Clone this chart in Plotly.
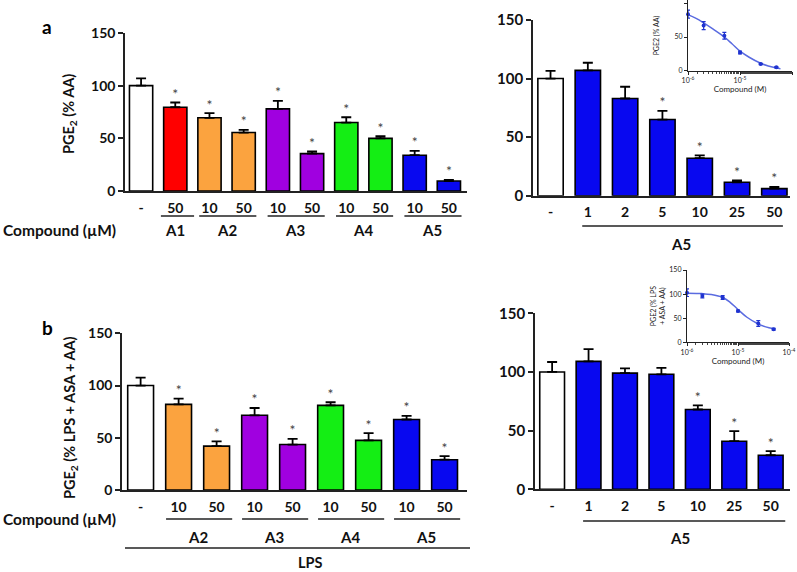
import plotly.graph_objects as go

W, H = 797, 572

# ---------------- data ----------------
WHITE, RED, ORANGE, PURPLE, GREEN, BLUE = "#FFFFFF", "#FF0000", "#FBA33F", "#A000E0", "#14EE14", "#0808F0"

a_left_labels = ["-", "50", "10", "50", "10", "50", "10", "50", "10", "50"]
a_left_groups = ["", "A1", "A2", "A2", "A3", "A3", "A4", "A4", "A5", "A5"]
a_left_values = [100, 79.5, 69.5, 55.5, 78, 35.5, 65, 50, 34, 9.5]
a_left_errors = [7, 4.5, 4.5, 2.5, 7.5, 2, 5, 2, 4, 1]
a_left_colors = [WHITE, RED, ORANGE, ORANGE, PURPLE, PURPLE, GREEN, GREEN, BLUE, BLUE]
a_left_sig = [False, True, True, True, True, True, True, True, True, True]

a_right_labels = ["-", "1", "2", "5", "10", "25", "50"]
a_right_groups = ["", "A5", "A5", "A5", "A5", "A5", "A5"]
a_right_values = [100, 107, 83, 65, 32, 11.5, 6]
a_right_errors = [6.5, 6.5, 10, 7.5, 2.5, 1.5, 1.5]
a_right_colors = [WHITE, BLUE, BLUE, BLUE, BLUE, BLUE, BLUE]
a_right_sig = [False, False, False, True, True, True, True]

b_left_labels = ["-", "10", "50", "10", "50", "10", "50", "10", "50"]
b_left_groups = ["", "A2", "A2", "A3", "A3", "A4", "A4", "A5", "A5"]
b_left_values = [100, 82, 42, 71.5, 43.5, 81, 47.5, 67.5, 29]
b_left_errors = [7.5, 5.5, 4.5, 7, 5.5, 3, 7, 3.5, 3.5]
b_left_colors = [WHITE, ORANGE, ORANGE, PURPLE, PURPLE, GREEN, GREEN, BLUE, BLUE]
b_left_sig = [False, True, True, True, True, True, True, True, True]

b_right_labels = ["-", "1", "2", "5", "10", "25", "50"]
b_right_groups = ["", "A5", "A5", "A5", "A5", "A5", "A5"]
b_right_values = [100, 109, 99, 98, 68, 41, 29]
b_right_errors = [8.5, 10.5, 4, 5.5, 3.5, 8.5, 3.5]
b_right_colors = [WHITE, BLUE, BLUE, BLUE, BLUE, BLUE, BLUE]
b_right_sig = [False, False, False, False, True, True, True]

y_ticks = [0, 50, 100, 150]

# insets (concentration in M)
inset_conc = [1e-6, 2e-6, 5e-6, 1e-5, 2.5e-5, 5e-5]
inset_a_values = [84, 67, 52, 27, 10, 5]
inset_a_errors = [6, 6, 5, 2, 1, 1]
inset_a_fit_x = [1e-6, 1.4e-6, 2e-6, 3e-6, 5e-6, 7e-6, 1e-5, 1.5e-5, 2.5e-5, 3.5e-5, 5e-5, 6e-5]
inset_a_fit_y = [83, 78, 71, 62, 50, 40, 29, 20, 11, 7, 4, 3]

inset_b_values = [103, 96, 93, 65, 39, 27]
inset_b_errors = [8, 4, 4, 2, 6, 2]
inset_b_fit_x = [1e-6, 2e-6, 3e-6, 5e-6, 7e-6, 1e-5, 1.5e-5, 2.5e-5, 3.5e-5, 5e-5]
inset_b_fit_y = [102, 101, 99, 93, 83, 68, 52, 38, 32, 28]

# ---------------- helpers ----------------
def px(x):
    return x / W

def py(y):
    return 1 - y / H

FONT = "Lato"
fig = go.Figure()
annotations = []
shapes = []

def label(x, y, text, size, color="#111", bold=True, angle=0, xanchor="center", xref="paper"):
    annotations.append(dict(xref=xref, yref="paper", x=x, y=y, text=text, showarrow=False,
                            xanchor=xanchor, yanchor="middle", textangle=angle,
                            font=dict(size=size, family=FONT, color=color,
                                      weight="bold" if bold else "normal")))

def bar_panel(idx, labels, groups, values, errors, colors, sig, xdom, ydom, xrange, line_y, grp_y, pads, tick_size=14):
    xa = "x" if idx == 1 else f"x{idx}"
    ya = "y" if idx == 1 else f"y{idx}"
    n = len(values)
    xs = list(range(n))
    fig.add_trace(go.Bar(
        x=xs, y=values, marker=dict(color=colors, line=dict(color="black", width=1.6)),
        width=0.68, xaxis=xa, yaxis=ya, showlegend=False,
        error_y=dict(type="data", array=errors, arrayminus=[0] * n, symmetric=False,
                     color="black", thickness=1.8, width=5),
    ))
    tops = [v + e for v, e in zip(values, errors)]
    fig.add_trace(go.Scatter(
        x=xs, y=tops, mode="text", text=["*" if s else "" for s in sig],
        textposition="top center", textfont=dict(size=14, color="#444", family=FONT),
        xaxis=xa, yaxis=ya, showlegend=False, cliponaxis=False,
    ))
    key = "" if idx == 1 else str(idx)
    fig.layout["xaxis" + key] = dict(
        domain=[px(xdom[0]), px(xdom[1])], range=xrange, anchor=ya, automargin=False,
        showline=True, linecolor="#222", linewidth=1.6, showgrid=False, zeroline=False,
        tickvals=xs, ticktext=labels, ticks="outside", ticklen=3, tickcolor="rgba(0,0,0,0)",
        tickfont=dict(size=14, family=FONT, color="#111", weight="bold"),
    )
    fig.layout["yaxis" + key] = dict(
        domain=[py(ydom[1]), py(ydom[0])], range=[0, 150], anchor=xa, automargin=False,
        showline=True, linecolor="#222", linewidth=1.6, showgrid=False, zeroline=False,
        tickvals=y_ticks, ticks="outside", ticklen=5, tickwidth=1.5, tickcolor="#222",
        tickfont=dict(size=tick_size, family=FONT, color="#111", weight="bold"),
    )
    # group underlines and labels
    seen = []
    for g in groups:
        if g and g not in seen:
            seen.append(g)
    for g in seen:
        ids = [i for i, gg in enumerate(groups) if gg == g]
        lo, hi = min(ids), max(ids)
        if lo == hi:
            p0, p1 = 0.42, 0.55
        else:
            p0, p1 = pads
        shapes.append(dict(type="line", xref=xa, yref="paper", x0=lo - p0, x1=hi + p1,
                           y0=py(line_y), y1=py(line_y), line=dict(color="#222", width=1.3)))
        label((lo + hi) / 2, py(grp_y), g, 15, xref=xa)

bar_panel(1, a_left_labels, a_left_groups, a_left_values, a_left_errors, a_left_colors, a_left_sig,
          (125, 467), (33, 191), [-0.47, 9.53], 216, 230, (0.3, 0.37))
bar_panel(2, a_right_labels, a_right_groups, a_right_values, a_right_errors, a_right_colors, a_right_sig,
          (533, 790), (20, 195.7), [-0.47, 6.42], 226, 244, (0.15, 0.23), tick_size=15)
bar_panel(3, b_left_labels, b_left_groups, b_left_values, b_left_errors, b_left_colors, b_left_sig,
          (122, 467), (333.3, 490), [-0.49, 8.59], 519, 537, (0.33, 0.41))
bar_panel(4, b_right_labels, b_right_groups, b_right_values, b_right_errors, b_right_colors, b_right_sig,
          (535, 790), (313.3, 489.3), [-0.47, 6.53], 521, 538, (0.15, 0.4), tick_size=15)

# LPS bracket under panel b-left
shapes.append(dict(type="line", xref="paper", yref="paper", x0=px(125), x1=px(470),
                   y0=py(548), y1=py(548), line=dict(color="#222", width=1.3)))
label(px(310), py(562), "LPS", 14.5)

# Compound labels
for yy in (230, 519):
    label(px(1), py(yy), "Compound (µM)", 15.5, xanchor="left")
# panel letters
label(px(47), py(27), "a", 19, color="#000")
label(px(47), py(327), "b", 19, color="#000")
# y titles
label(px(70), py(114), "PGE<sub>2</sub> (% AA)", 14.5, angle=-90)
label(px(70), py(418), "PGE<sub>2</sub> (% LPS + ASA + AA)", 14.5, angle=-90)

# ---------------- insets ----------------
def inset(idx, vals, errs, fx, fy, xdom, ydom, yrange, ytickvals, ytitle, title_x):
    xa, ya = f"x{idx}", f"y{idx}"
    fig.add_trace(go.Scatter(x=fx, y=fy, mode="lines", line=dict(color="#5A6BE0", width=1.5, shape="spline"),
                             xaxis=xa, yaxis=ya, showlegend=False))
    fig.add_trace(go.Scatter(x=inset_conc, y=vals, mode="markers",
                             marker=dict(color="#1F33D0", size=4),
                             error_y=dict(type="data", array=errs, color="#1F33D0", thickness=1.2, width=2),
                             xaxis=xa, yaxis=ya, showlegend=False, cliponaxis=False))
    fig.layout[f"xaxis{idx}"] = dict(
        domain=[px(xdom[0]), px(xdom[1])], type="log", range=[-6, -4], anchor=ya, automargin=False,
        showline=True, linecolor="#222", linewidth=1.2, showgrid=False, zeroline=False,
        tickvals=[1e-6, 1e-5, 1e-4], ticktext=["10<sup>-6</sup>", "10<sup>-5</sup>", "10<sup>-4</sup>"],
        ticks="outside", ticklen=3, tickcolor="#222",
        minor=dict(ticks="outside", ticklen=2, tickcolor="#444", showgrid=False),
        tickfont=dict(size=7, family=FONT, color="#222"),
        title=dict(text="Compound (M)", font=dict(size=8, family=FONT, color="#222"), standoff=2),
    )
    fig.layout[f"yaxis{idx}"] = dict(
        domain=[py(ydom[1]), py(ydom[0])], range=yrange, anchor=xa, automargin=False,
        showline=True, linecolor="#222", linewidth=1.2, showgrid=False, zeroline=False,
        tickvals=ytickvals, ticks="outside", ticklen=3, tickcolor="#222",
        tickfont=dict(size=7, family=FONT, color="#222"),
    )
    label(px(title_x), (py(ydom[0]) + py(ydom[1])) / 2, ytitle, 7, color="#222", bold=False, angle=-90)

inset(5, inset_a_values, inset_a_errors, inset_a_fit_x, inset_a_fit_y,
      (688, 792), (0, 70.7), [0, 105], [0, 50, 100], "PGE2 (% AA)", 656)
inset(6, inset_b_values, inset_b_errors, inset_b_fit_x, inset_b_fit_y,
      (687, 789), (270, 342.3), [0, 150], [0, 50, 100, 150], "PGE2 (% LPS<br>+ ASA + AA)", 658)

fig.update_layout(
    width=W, height=H, margin=dict(l=0, r=0, t=0, b=0, autoexpand=False),
    paper_bgcolor="white", plot_bgcolor="rgba(0,0,0,0)",
    annotations=annotations, shapes=shapes, bargap=0.3,
    font=dict(family=FONT),
)

fig.write_html("out.html", config={"displayModeBar": False},
               post_script="document.body.style.margin='0px';document.body.style.overflow='hidden';")
